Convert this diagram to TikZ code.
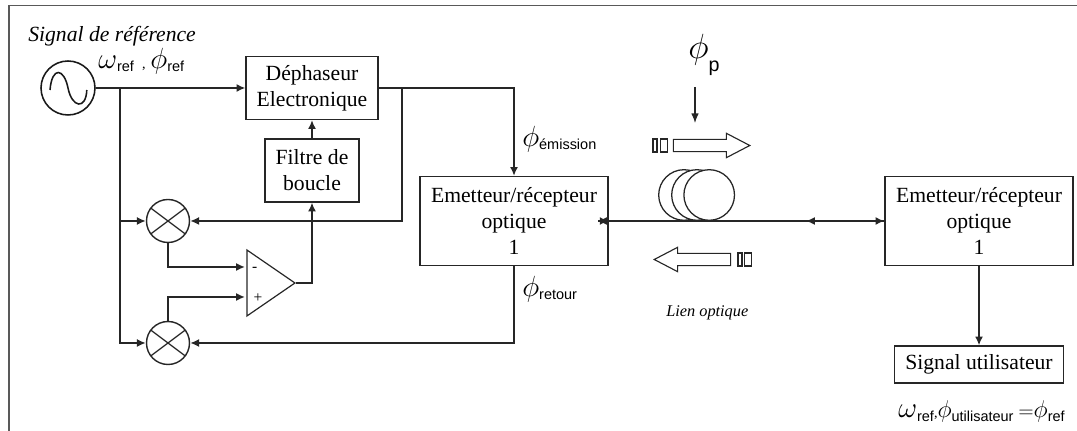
\documentclass[tikz,border=0pt]{standalone}
\usepackage{fontspec}
\setmainfont{Liberation Serif}
\setsansfont{Liberation Sans}
\usetikzlibrary{arrows.meta, positioning, calc, shapes.geometric, shapes.arrows}
\newcommand{\sigfont}{\fontsize{15.4}{18.5}\selectfont}
\newcommand{\symb}[2]{{\fontsize{#2}{#2}\selectfont$#1$}}
\newcommand{\subtxt}[1]{\raisebox{-0.5ex}{\fontsize{10.3}{12}\selectfont\sffamily #1}}
\tikzset{
    blockbox/.style={rectangle, draw=black!85, line width=0.85pt, inner sep=0pt, align=center, font=\sigfont},
    mixer/.style={circle, draw=black!85, line width=1pt, minimum size=1.075cm, inner sep=0pt,
        path picture={\draw[line width=0.9pt, black!85] ($(path picture bounding box.center)+(-1,-0.75)$) -- ($(path picture bounding box.center)+(1,0.75)$);
                      \draw[line width=0.9pt, black!85] ($(path picture bounding box.center)+(-1,0.75)$) -- ($(path picture bounding box.center)+(1,-0.75)$);}},
    coil/.style={circle, fill=white, draw=black!85, line width=0.9pt, minimum size=1.265cm, inner sep=0pt},
    fibrearrow/.style={single arrow, draw=black!85, fill=white, line width=0.8pt, minimum height=1.91cm,
        single arrow head extend=0.15cm, single arrow tip angle=55, inner xsep=0pt, inner ysep=0.14cm, anchor=tip},
    fibrerect/.style={rectangle, draw=black!85, fill=white, line width=0.8pt, minimum height=0.325cm, inner sep=0pt},
    sigline/.style={line width=1.9pt, draw=black!85},
    sigarrow/.style={-{Latex[length=2.2mm,width=2mm]}, line width=1.3pt, draw=black!85},
    lbl/.style={inner sep=0pt, anchor=west}
}
\begin{document}
\begin{tikzpicture}
    \useasboundingbox (0,0) rectangle (26.925,10.775);
    \draw[line width=0.8pt, black!65] (0.225,0) |- (26.925,10.63);

    % Source et blocs
    \node[circle, draw=black!90, line width=1.1pt, minimum size=1.35cm, inner sep=0pt] (osc) at (1.7,8.575) {};
    \draw[line width=1.1pt, black!90] ($(osc)+(-0.45,-0.05)$) .. controls ($(osc)+(-0.4,0.55)$) and ($(osc)+(-0.1,0.5)$) .. (osc.center)
        .. controls ($(osc)+(0.1,-0.5)$) and ($(osc)+(0.45,-0.55)$) .. ($(osc)+(0.47,-0.05)$);
    \node[blockbox, minimum width=3.3cm, minimum height=1.575cm] (dep) at (7.8,8.575) {Déphaseur\\Electronique};
    \node[blockbox, minimum width=2.35cm, minimum height=1.575cm] (filt) at (7.8,6.5125) {Filtre de\\boucle};
    \node[mixer] (mix1) at (4.2,5.25) {};
    \node[mixer] (mix2) at (4.2,2.2) {};
    \node[isosceles triangle, isosceles triangle apex angle=69, draw=black!85, line width=0.85pt, minimum height=1.2cm, inner sep=0pt, anchor=apex] (amp) at (7.4,3.7) {};
    \node[font=\fontsize{11}{11}\selectfont, inner sep=0pt] (ampminus) at (6.37,4.03) {-};
    \node[font=\fontsize{11}{11}\selectfont, inner sep=0pt] (ampplus) at (6.45,3.33) {+};
    \node[blockbox, minimum width=4.7cm, minimum height=2.225cm] (em1) at (12.85,5.25) {Emetteur/récepteur\\optique\\1};
    \node[blockbox, minimum width=4.7cm, minimum height=2.225cm] (em2) at (24.475,5.25) {Emetteur/récepteur\\optique\\1};
    \node[blockbox, minimum width=4.225cm, minimum height=0.925cm] (user) at (24.475,1.6625) {Signal utilisateur};

    \coordinate (jref) at (3,8.575);
    \coordinate (jfb) at (10.05,8.575);
    \coordinate (ampm) at (6.125,4.1);
    \coordinate (ampp) at (6.125,3.35);
    \coordinate (fibl) at (14.95,5.25);
    \coordinate (fibr) at (20.15,5.25);
    \coordinate (phitop) at (17.375,8.6);
    \coordinate (phibot) at (17.375,7.7);

    % Liaisons
    \draw[sigline] (osc.east) -- (jref);
    \draw[sigline] (dep.east) -- (jfb);
    \draw[sigarrow] (osc.east) -- (dep.west);
    \draw[sigarrow] (jref) |- (mix1.west);
    \draw[sigarrow] (jref) |- (mix2.west);
    \draw[sigarrow] (filt.north) -- (dep.south);
    \draw[sigarrow] (dep.east) -| (em1.north);
    \draw[sigarrow] (jfb) |- (mix1.east);
    \draw[sigarrow] (em1.south) |- (mix2.east);
    \draw[sigarrow] (amp.apex) -| (filt.south);
    \draw[sigarrow] (mix1.south) |- (ampm);
    \draw[sigarrow] (mix2.north) |- (ampp);
    \draw[sigarrow] (em2.south) -- (user.north);

    % Lien optique
    \node[coil] (coil1) at (17.1,5.9) {};
    \node[coil] (coil2) at (17.425,5.9) {};
    \node[coil] (coil3) at (17.73,5.9) {};
    \draw[sigarrow] (fibr) -- (fibl);
    \draw[sigarrow] (fibl) -- (em1.east);
    \draw[sigarrow] (fibr) -- (em2.west);
    \draw[sigarrow] (em2.west) -- (fibr);
    \draw[-{Latex[length=2.4mm,width=1.9mm]}, line width=0.9pt, black!85] (phitop) -- (phibot);

    \node[fibrearrow] (fwd) at (18.775,7.1375) {};
    \node[fibrerect, minimum width=0.1cm] (fwda) at (16.375,7.1375) {};
    \node[fibrerect, minimum width=0.175cm] (fwdb) at (16.59,7.1375) {};
    \node[fibrearrow, shape border rotate=180] (bwd) at (16.325,4.2875) {};
    \node[fibrerect, minimum width=0.1cm] (bwda) at (18.5,4.2875) {};
    \node[fibrerect, minimum width=0.175cm] (bwdb) at (18.69,4.2875) {};

    % Textes
    \node[lbl, font=\sigfont\itshape] (title) at (0.7,9.86) {Signal de référence};
    \node[lbl] (refs) at (2.45,9.25) {\symb{\omega}{20}\subtxt{ref}\,\, ,\,\,\symb{\phi}{20}\subtxt{ref}};
    \node[lbl] (phiem) at (13.05,7.3) {\symb{\phi}{20}\subtxt{émission}};
    \node[lbl] (phiret) at (13.05,3.55) {\symb{\phi}{20}\subtxt{retour}};
    \node[lbl] (phip) at (17.2,9.4) {\symb{\phi}{32}{\fontsize{14}{16}\selectfont\sffamily\raisebox{-1.2ex}{p}}};
    \node[lbl, font=\fontsize{11.6}{13}\selectfont\itshape] (lien) at (16.65,2.96) {Lien optique};
    \node[lbl] (userlbl) at (22.45,0.48) {\symb{\omega}{20}\subtxt{ref},\symb{\phi}{19}\subtxt{utilisateur}\,\,\symb{=}{14}\symb{\phi}{18}\subtxt{ref}};
\end{tikzpicture}
\end{document}
